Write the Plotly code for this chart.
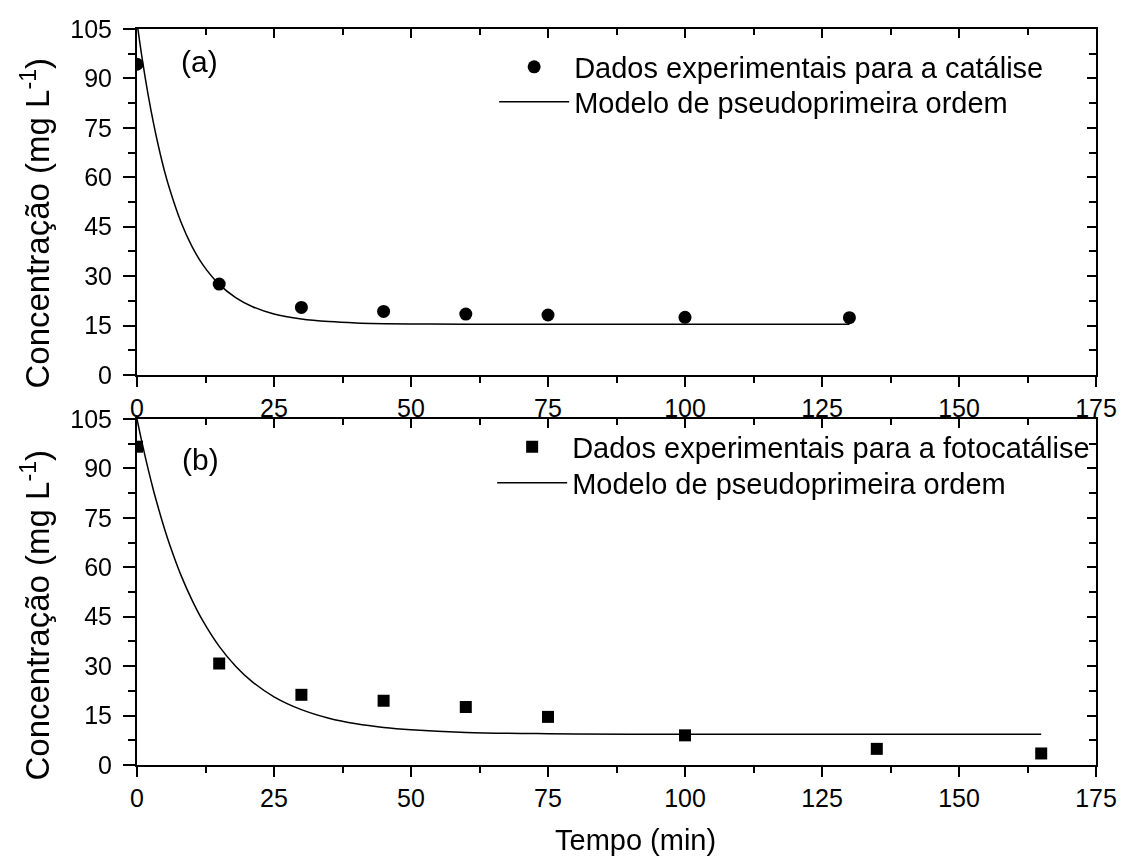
import plotly.graph_objects as go

# Experimental data: catalysis (a)
t_cat = [0, 15, 30, 45, 60, 75, 100, 130]
c_cat = [94.3, 27.6, 20.5, 19.3, 18.5, 18.2, 17.5, 17.4]

# Pseudo-first-order model curve for catalysis
t_cat_fit = [0, 1, 2, 3, 4, 5, 6, 8, 10, 12, 15, 18, 21, 25, 30, 35, 40, 50, 60, 75, 100, 130]
c_cat_fit = [107.0, 95.4, 85.3, 76.5, 68.8, 62.0, 56.2, 46.5, 39.1, 33.5, 27.5, 23.5,
             20.8, 18.5, 17.0, 16.2, 15.8, 15.5, 15.4, 15.4, 15.4, 15.4]

# Experimental data: photocatalysis (b)
t_foto = [0, 15, 30, 45, 60, 75, 100, 135, 165]
c_foto = [96.6, 30.8, 21.3, 19.5, 17.6, 14.6, 9.0, 4.9, 3.5]

# Pseudo-first-order model curve for photocatalysis
t_foto_fit = [0, 1, 2, 3, 4, 5, 6, 8, 10, 12, 15, 18, 21, 25, 30, 35, 40, 45, 50, 60,
              75, 90, 100, 130, 165]
c_foto_fit = [105.0, 97.2, 90.0, 83.4, 77.4, 71.8, 66.7, 57.7, 50.2, 43.8, 36.0, 30.0,
              25.3, 20.7, 16.8, 14.2, 12.5, 11.4, 10.7, 9.9, 9.5, 9.35, 9.3, 9.3, 9.3]

x_ticks = [0, 25, 50, 75, 100, 125, 150, 175]
y_ticks = [0, 15, 30, 45, 60, 75, 90, 105]

FONT = "Liberation Sans, Arial, sans-serif"
BLACK = "#000000"

fig = go.Figure()

# Panel (a)
fig.add_trace(go.Scatter(x=t_cat, y=c_cat, mode="markers", xaxis="x", yaxis="y",
                         name="Dados experimentais para a catálise", legend="legend",
                         marker=dict(symbol="circle", size=13, color=BLACK)))
fig.add_trace(go.Scatter(x=t_cat_fit, y=c_cat_fit, mode="lines", xaxis="x", yaxis="y",
                         name="Modelo de pseudoprimeira ordem", legend="legend2",
                         line=dict(color=BLACK, width=1.5, shape="spline")))

# Panel (b)
fig.add_trace(go.Scatter(x=t_foto, y=c_foto, mode="markers", xaxis="x2", yaxis="y2",
                         name="Dados experimentais para a fotocatálise", legend="legend3",
                         marker=dict(symbol="square", size=12, color=BLACK)))
fig.add_trace(go.Scatter(x=t_foto_fit, y=c_foto_fit, mode="lines", xaxis="x2", yaxis="y2",
                         name="Modelo de pseudoprimeira ordem", legend="legend4",
                         line=dict(color=BLACK, width=1.5, shape="spline")))

# Transparent copies that activate the mirrored (top / right) tick axes
fig.add_trace(go.Scatter(x=t_cat, y=c_cat, mode="markers", xaxis="x3", yaxis="y3",
                         opacity=0, showlegend=False, hoverinfo="skip"))
fig.add_trace(go.Scatter(x=t_foto, y=c_foto, mode="markers", xaxis="x4", yaxis="y4",
                         opacity=0, showlegend=False, hoverinfo="skip"))

tickfont = dict(family=FONT, size=25, color=BLACK)


def x_main(anchor):
    return dict(range=[0, 175], tickvals=x_ticks, ticks="outside", ticklen=10, tickwidth=2,
                tickcolor=BLACK, showline=True, linecolor=BLACK, linewidth=2, mirror=True,
                showgrid=False, zeroline=False, tickfont=tickfont, anchor=anchor,
                minor=dict(dtick=12.5, tick0=0, ticks="outside", ticklen=6, tickwidth=2,
                           tickcolor=BLACK, showgrid=False))


def y_main(anchor, domain):
    return dict(range=[0, 105], tickvals=y_ticks, ticks="outside", ticklen=12, tickwidth=2,
                tickcolor=BLACK, showline=True, linecolor=BLACK, linewidth=2, mirror=True,
                showgrid=False, zeroline=False, tickfont=tickfont, anchor=anchor,
                domain=domain, ticklabelstandoff=6,
                minor=dict(dtick=7.5, tick0=0, ticks="outside", ticklen=7, tickwidth=2,
                           tickcolor=BLACK, showgrid=False))


def x_top(overlay, anchor):
    return dict(range=[0, 175], tickvals=x_ticks, ticks="inside", ticklen=9, tickwidth=2,
                tickcolor=BLACK, showline=False, showgrid=False, zeroline=False,
                showticklabels=False, overlaying=overlay, anchor=anchor, side="top",
                minor=dict(dtick=12.5, tick0=0, ticks="inside", ticklen=6, tickwidth=2,
                           tickcolor=BLACK, showgrid=False))


def y_right(overlay, anchor):
    return dict(range=[0, 105], tickvals=y_ticks, ticks="inside", ticklen=9, tickwidth=2,
                tickcolor=BLACK, showline=False, showgrid=False, zeroline=False,
                showticklabels=False, overlaying=overlay, anchor=anchor, side="right",
                minor=dict(dtick=7.5, tick0=0, ticks="inside", ticklen=7, tickwidth=2,
                           tickcolor=BLACK, showgrid=False))


top_dom = [0.5299, 1.0]
bot_dom = [0.0, 0.4701]

# Plot area spans 137..1101 px horizontally and 29..765 px vertically
def px_x(px):
    return (px - 137) / 964


def px_y(py):
    return (765 - py) / 736


legend_style = dict(font=dict(family=FONT, size=29, color=BLACK), bgcolor="rgba(0,0,0,0)",
                    borderwidth=0, xanchor="left", yanchor="middle", tracegroupgap=0,
                    itemwidth=70, itemsizing="trace")

fig.update_layout(
    width=1129, height=858,
    margin=dict(l=137, r=28, t=29, b=93),
    paper_bgcolor="white", plot_bgcolor="white",
    font=dict(family=FONT, color=BLACK),
    xaxis=x_main("y"),
    yaxis=y_main("x", top_dom),
    xaxis2=x_main("y2"),
    yaxis2=y_main("x2", bot_dom),
    xaxis3=x_top("x", "y"),
    yaxis3=y_right("y", "x"),
    xaxis4=x_top("x2", "y2"),
    yaxis4=y_right("y2", "x2"),
    legend=dict(x=px_x(496), y=px_y(67), **legend_style),
    legend2=dict(x=px_x(496), y=px_y(102), **legend_style),
    legend3=dict(x=px_x(494), y=px_y(447), **legend_style),
    legend4=dict(x=px_x(494), y=px_y(483), **legend_style),
    showlegend=True,
)

# Panel labels placed in data coordinates of each panel
fig.add_annotation(text="(a)", x=11.4, y=95, xref="x", yref="y", showarrow=False,
                   font=dict(family=FONT, size=30, color=BLACK))
fig.add_annotation(text="(b)", x=11.6, y=92.6, xref="x2", yref="y2", showarrow=False,
                   font=dict(family=FONT, size=30, color=BLACK))

fig.add_annotation(text="Tempo (min)", x=0.52, y=-0.102, xref="paper", yref="paper",
                   showarrow=False, font=dict(family=FONT, size=29, color=BLACK),
                   xanchor="center", yanchor="middle")
for yc in (0.7364, 0.2038):
    fig.add_annotation(text="Concentração (mg L<sup>-1</sup>)", x=-0.1058, y=yc,
                       xref="paper", yref="paper", textangle=-90, showarrow=False,
                       font=dict(family=FONT, size=33, color=BLACK),
                       xanchor="center", yanchor="middle")

fig.write_html("out.html")
